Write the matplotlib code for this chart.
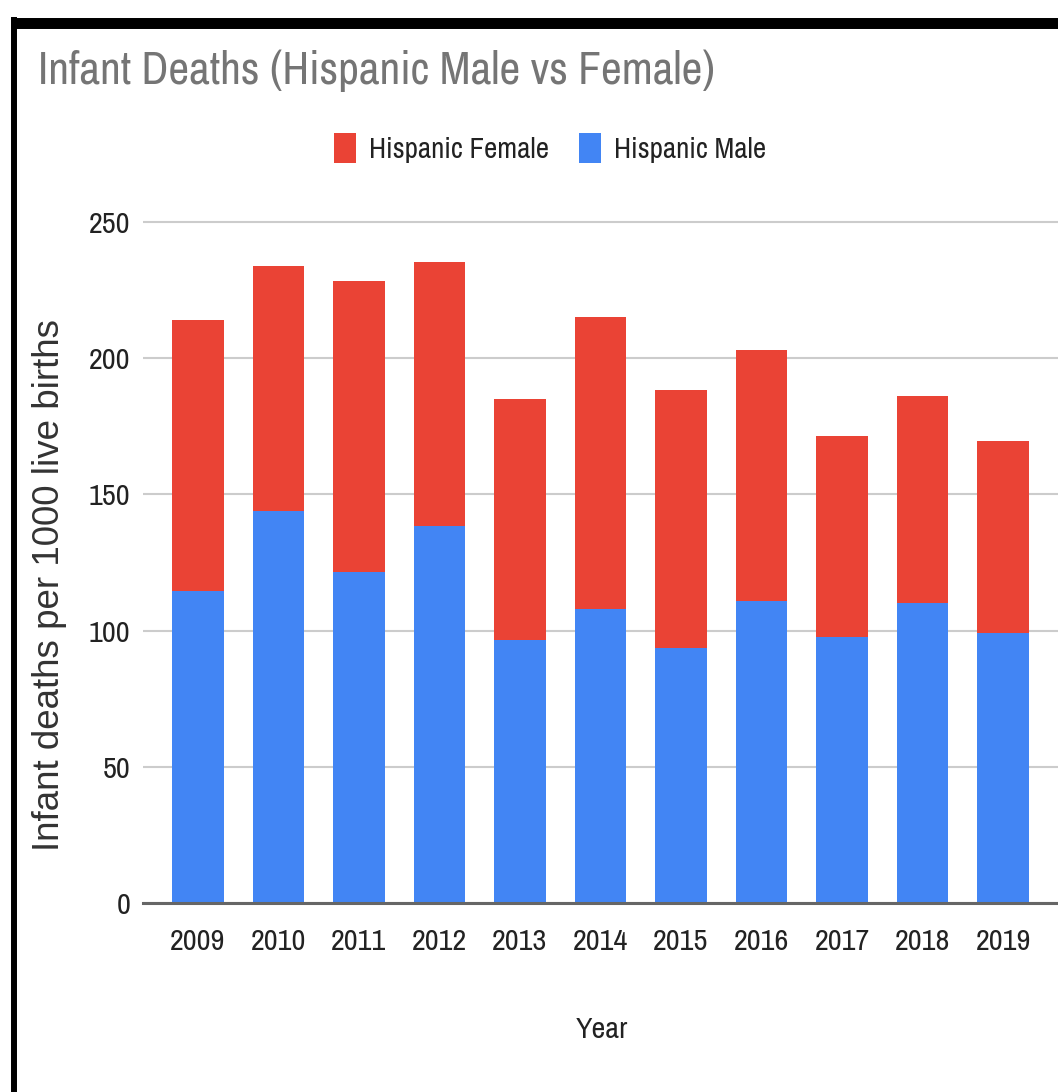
import matplotlib

matplotlib.use("Agg")

import matplotlib.pyplot as plt
from matplotlib import font_manager
from matplotlib.font_manager import FontProperties
from matplotlib.lines import Line2D
from matplotlib.patches import Patch


years = ["2009", "2010", "2011", "2012", "2013", "2014",
         "2015", "2016", "2017", "2018", "2019"]

hispanic_male = [114.5, 144, 121.5, 138.5, 96.5, 108, 93.5, 111, 97.5, 110, 99]

hispanic_female = [99.5, 90, 107, 97, 88.5, 107, 95, 92, 74, 76, 70.5]

yticks = [0, 50, 100, 150, 200, 250]

TITLE = "Infant Deaths (Hispanic Male vs Female)"

RED = "#EA4335"
BLUE = "#4285F4"

W, H = 1058, 1092


def find_narrow_font():
    """Pick a narrow / condensed sans font if one is installed."""
    best = None
    for f in font_manager.fontManager.ttflist:
        name = f.name.lower()
        path = f.fname.lower()
        if f.style != "normal":
            continue
        if str(f.weight) not in ("400", "normal", "regular", "book"):
            continue
        if "mono" in name or "serif" in name or "bold" in path:
            continue
        if "italic" in path:
            continue
        if "narrow" in name or "narrow" in path:
            rank = 0
        elif "extra" in path or "ultra" in path:
            continue
        elif "semicondensed" in path or "semi-condensed" in str(f.stretch):
            rank = 3
        elif "condensed" in name or "condensed" in path or str(f.stretch) == "condensed":
            rank = 1 if ("roboto" in name or "liberation" in name) else 2
        else:
            continue
        if best is None or rank < best[0]:
            best = (rank, f.fname)
    return best[1] if best else None


narrow_path = find_narrow_font()


def narrow(size):
    if narrow_path:
        return FontProperties(fname=narrow_path, size=size)
    return FontProperties(family=["Liberation Sans", "DejaVu Sans"], size=size)


fig = plt.figure(figsize=(W / 100, H / 100), dpi=100)

# scale the narrow-font sizes so the title lands near its width in the picture
renderer = fig.canvas.get_renderer()
probe = fig.text(0, 0, TITLE, fontproperties=narrow(35))
probe_w = probe.get_window_extent(renderer).width
probe.remove()
k = 657 / probe_w

ax = fig.add_axes([
    143 / W,
    1 - 903 / H,
    (W - 143) / W,
    (903 - 216.6) / H,
])

x = list(range(len(years)))

ax.bar(x, hispanic_male, width=0.64, color=BLUE, zorder=2)

ax.bar(x, hispanic_female, width=0.64, bottom=hispanic_male,
       color=RED, zorder=2)

ax.set_xlim(-0.68, len(years) - 0.32)
ax.set_ylim(0, 252)

ax.set_yticks(yticks)
ax.set_xticks(x)
ax.set_xticklabels(years)

for lab in ax.get_yticklabels():
    lab.set_fontproperties(narrow(24 * k))
    lab.set_color("#222222")

for lab in ax.get_xticklabels():
    lab.set_fontproperties(narrow(24 * k))
    lab.set_color("#222222")

ax.tick_params(axis="y", length=0, pad=9)
ax.tick_params(axis="x", length=0, pad=18)

ax.grid(axis="y", color="#cccccc", linewidth=1.5)
ax.set_axisbelow(True)

for side in ["top", "right", "left"]:
    ax.spines[side].set_visible(False)

ax.spines["bottom"].set_color("#666666")
ax.spines["bottom"].set_linewidth(2.2)
ax.spines["bottom"].set_zorder(3)

ax.set_ylabel("Infant deaths per 1000 live births", fontsize=26.5,
              family=["Liberation Sans", "DejaVu Sans"], color="#333333")
ax.yaxis.set_label_coords(-0.083, 0.463)

fig.text(602 / W, 1 - 1029 / H, "Year", ha="center", va="center",
         fontproperties=narrow(24 * k), color="#222222")

fig.text(38 / W, 1 - 84 / H, TITLE, ha="left", va="baseline",
         fontproperties=narrow(36 * k), color="#757575")

handles = [
    Patch(facecolor=RED, edgecolor="none"),
    Patch(facecolor=BLUE, edgecolor="none"),
]

leg_size = 23 * k

leg = fig.legend(
    handles,
    ["Hispanic Female", "Hispanic Male"],
    loc="center",
    bbox_to_anchor=(550 / W, 1 - 148 / H),
    ncol=2,
    frameon=False,
    handlelength=22 / (leg_size * 100 / 72),
    handleheight=35 / (leg_size * 100 / 72),
    handletextpad=0.45,
    columnspacing=1.05,
    prop=narrow(leg_size),
)

for t in leg.get_texts():
    t.set_color("#222222")

# black frame from the screenshot
fig.add_artist(Line2D([14 / W, 14 / W], [1 - 17 / H, 0],
                      transform=fig.transFigure, color="black",
                      linewidth=4.3, solid_capstyle="butt"))
fig.add_artist(Line2D([11 / W, 1], [1 - 22.5 / H, 1 - 22.5 / H],
                      transform=fig.transFigure, color="black",
                      linewidth=7.9, solid_capstyle="butt"))

fig.savefig("out.png", dpi=100)
plt.close(fig)
